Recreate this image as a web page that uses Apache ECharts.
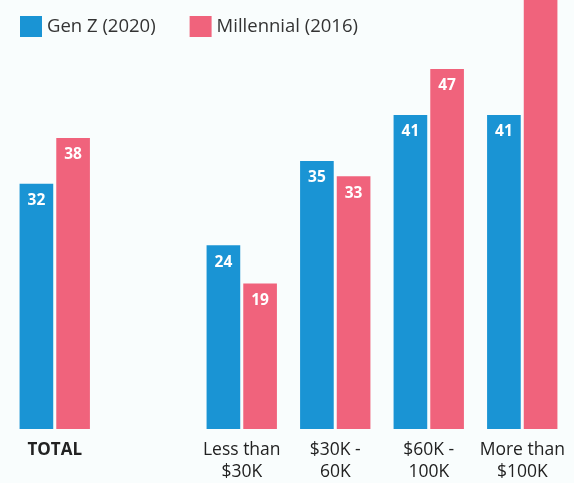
<!DOCTYPE html>
<html>
<head>
<meta charset="utf-8">
<script src="https://cdn.jsdelivr.net/npm/echarts@6/dist/echarts.min.js"></script>
<style>
  html, body { margin: 0; padding: 0; background: #f9fdfd; }
  #main { width: 574px; height: 483px; }
</style>
</head>
<body>
<div id="main"></div>
<script>
// categories (the empty one is the gap after TOTAL)
const categories = ['TOTAL', '', 'Less than\n$30K', '$30K -\n60K', '$60K -\n100K', 'More than\n$100K'];
const genZ = [32, '-', 24, 35, 41, 41];
const millennial = [38, '-', 19, 33, 47, 58]; // last bar runs off the top, value estimated

const chart = echarts.init(document.getElementById('main'));

const labelStyle = {
  show: true,
  position: 'insideTop',
  distance: 9,
  color: '#fff',
  fontWeight: 'bold',
  fontSize: 15.5,
  fontFamily: 'Open Sans'
};

const option = {
  backgroundColor: '#f9fdfd',
  animation: false,
  legend: {
    left: 15,
    top: 11,
    itemWidth: 22,
    itemHeight: 21,
    itemGap: 34,
    icon: 'rect',
    textStyle: { color: '#333', fontSize: 18.5, fontFamily: 'Open Sans' },
    data: ['Gen Z (2020)', 'Millennial (2016)']
  },
  grid: { left: 8, right: 5, top: 0, bottom: 53 },
  xAxis: {
    type: 'category',
    data: categories,
    axisLine: { show: false },
    axisTick: { show: false },
    axisLabel: {
      margin: 10,
      color: '#222',
      fontSize: 17.5,
      lineHeight: 22,
      fontFamily: 'Open Sans',
      interval: 0,
      formatter: function (v) {
        return v === 'TOTAL' ? '{b|' + v + '}' : v;
      },
      rich: {
        b: { fontWeight: 'bold', fontSize: 17, color: '#222', fontFamily: 'Open Sans' }
      }
    }
  },
  yAxis: {
    type: 'value',
    min: 0,
    max: 56,
    show: false,
    splitLine: { show: false }
  },
  series: [
    {
      name: 'Gen Z (2020)',
      type: 'bar',
      data: genZ,
      barWidth: '36%',
      barGap: '9%',
      itemStyle: { color: '#1a94d4' },
      label: labelStyle
    },
    {
      name: 'Millennial (2016)',
      type: 'bar',
      data: millennial.map(function (v, i) {
        return i === millennial.length - 1 ? { value: v, label: { show: false } } : v;
      }),
      barWidth: '36%',
      itemStyle: { color: '#f0637c' },
      label: labelStyle
    }
  ]
};

chart.setOption(option);
</script>
</body>
</html>
